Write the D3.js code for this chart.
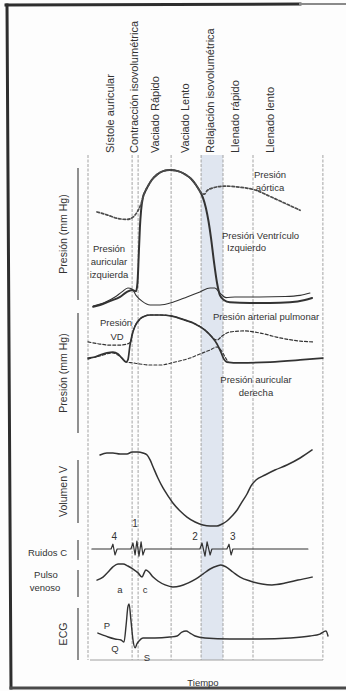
<!DOCTYPE html>
<html>
<head>
<meta charset="utf-8">
<script src="https://cdn.jsdelivr.net/npm/d3@7"></script>
<style>
  html, body { margin: 0; padding: 0; background: #ffffff; }
  svg { display: block; }
  text { font-family: "Liberation Sans", Arial, sans-serif; fill: #333333; }
</style>
</head>
<body>
<svg id="chart" width="346" height="691"></svg>
<script>
// Ciclo cardíaco: tiempo en ms desde el inicio de la sístole auricular.
const phaseNames = [
  "Sístole auricular", "Contracción isovolumétrica", "Vaciado Rápido",
  "Vaciado Lento", "Relajación isovolumétrica", "Llenado rápido", "Llenado lento"
];
const phaseStarts = [0, 147, 167, 277, 377, 450, 550];
const cycleEnd = 783;
const phaseLabelTimes = [73, 153, 223, 323, 407, 490, 607];
const isovolumetricRelaxation = [377, 450];

// Corazón izquierdo [ms, mm Hg]
const aorticPressure = [
  [30, 83.5], [63, 81], [97, 78], [130, 77], [150, 79], [165, 84], [176, 90],
  [183, 96], [190, 101], [200, 106], [213, 111.5], [230, 116], [250, 119],
  [273, 120], [300, 119], [325, 116], [345, 112], [360, 107], [372, 102],
  [380, 99.5], [388, 99], [397, 102], [417, 104.5], [457, 106], [507, 105],
  [557, 102.6], [607, 97], [657, 91], [707, 85]
];
const leftVentricularPressure = [
  [17, 1], [40, 2.6], [73, 6], [107, 9.6], [130, 14], [147, 15.6], [160, 14.5],
  [165, 22], [169, 45], [173, 70], [177, 85], [183, 96], [190, 101], [200, 106],
  [213, 111.5], [230, 116], [250, 119], [273, 120], [300, 119], [325, 116],
  [345, 112], [360, 107], [372, 102], [383, 96], [393, 87], [402, 75], [410, 61],
  [420, 40], [430, 22], [440, 11], [453, 7], [473, 5], [540, 4.3], [607, 4.3],
  [673, 5], [723, 7], [747, 8.7]
];
const leftAtrialPressure = [
  [17, 1.7], [57, 5], [90, 9.6], [113, 14], [133, 17.4], [147, 16.5], [160, 11],
  [180, 6], [207, 2.6], [240, 2.6], [283, 5], [330, 9.6], [373, 14], [407, 17.4],
  [423, 17.4], [440, 13], [460, 9], [490, 9.6], [573, 9.6], [657, 10], [707, 11],
  [740, 13]
];

// Corazón derecho [ms, mm Hg]
const rightVentricularPressure = [
  [0, 4.7], [23, 5.2], [40, 6.1], [63, 7.1], [83, 7.5], [100, 6.6], [113, 4.7],
  [127, 2.8], [133, 3.8], [140, 10.8], [147, 15.6], [157, 19.8], [173, 23.1],
  [190, 24.5], [207, 25], [240, 25], [280, 24.5], [323, 22.6], [357, 20.8],
  [390, 17.9], [413, 14.6], [430, 11.3], [443, 7.5], [453, 4.2], [463, 2.8],
  [507, 2.4], [607, 2.8], [707, 3.8], [783, 4.7]
];
const pulmonaryArterialPressure = [
  [0, 12.3], [40, 11.3], [73, 10.8], [107, 10.8], [130, 11.3], [143, 12.3],
  [147, 15.6], [157, 19.8], [173, 23.1], [190, 24.5], [207, 25], [240, 25],
  [280, 24.5], [323, 22.6], [357, 20.8], [390, 17.9], [407, 15.6], [420, 13.7],
  [430, 13.2], [447, 15.1], [473, 17], [523, 17.5], [573, 16.5], [640, 14.2],
  [707, 12.7], [750, 12.3]
];
const rightAtrialPressure = [
  [0, 4.2], [40, 5.7], [83, 7.1], [100, 6.1], [113, 4.7], [127, 2.8], [150, 2.4],
  [173, 1.9], [207, 1.4], [240, 1.4], [290, 2.8], [340, 4.7], [373, 6.6],
  [407, 8.5], [430, 9.9], [443, 8.5], [457, 5.2], [467, 2.8]
];

// Volumen ventricular [ms, mL]
const ventricularVolume = [
  [40, 126.8], [63, 128.9], [83, 128.9], [107, 127.8], [130, 127.8], [147, 130],
  [167, 130], [183, 128.9], [197, 126.8], [207, 121.4], [217, 113.8], [233, 101.9],
  [250, 91.1], [267, 82.4], [283, 74.9], [307, 66.2], [330, 59.7], [357, 54.3],
  [383, 51.1], [407, 50], [430, 50], [447, 52.2], [463, 55.4], [480, 60.8],
  [497, 67.3], [513, 75.9], [530, 84.6], [543, 93.2], [560, 99.7], [590, 105.1],
  [623, 110.5], [663, 115.9], [707, 123.5], [747, 132.2]
];

// Ruidos cardíacos [ms, amplitud relativa]
const heartSounds = [
  [13, 0], [77, 0], [83, 0.6], [90, -0.75], [97, 0], [143, 0], [150, 0.75],
  [157, -0.75], [163, 1], [170, -0.9], [177, 0.9], [183, -0.75], [190, 0],
  [373, 0], [380, 0.75], [390, -0.9], [397, 0.9], [407, -0.75], [413, 0],
  [463, 0], [470, 0.6], [477, -0.75], [483, 0], [733, 0]
];
const soundNames = ["4", "1", "2", "3"];
const soundTimes = [88, 157, 357, 483];

// Pulso venoso [ms, unidades relativas]
const venousPulse = [
  [30, 0.33], [50, 0.43], [67, 0.6], [83, 0.77], [100, 0.87], [117, 0.87],
  [133, 0.8], [150, 0.7], [167, 0.57], [180, 0.43], [187, 0.57], [193, 0.67],
  [203, 0.6], [217, 0.43], [233, 0.3], [257, 0.17], [283, 0.1], [307, 0.13],
  [333, 0.23], [360, 0.37], [383, 0.53], [407, 0.7], [430, 0.8], [443, 0.83],
  [460, 0.77], [483, 0.6], [507, 0.43], [540, 0.3], [580, 0.2], [613, 0.17],
  [657, 0.23], [700, 0.33], [747, 0.43]
];

// ECG [ms, mV]
const ecg = [
  [33, 0.15], [50, 0.09], [67, 0.03], [90, -0.03], [110, -0.06], [120, -0.12],
  [127, 0.39], [133, 0.94], [137, 1.03], [143, 0.55], [150, -0.06], [157, -0.3],
  [163, -0.18], [170, -0.09], [183, 0], [223, 0], [273, 0.03], [297, 0.06],
  [313, 0.18], [327, 0.21], [340, 0.15], [357, 0.06], [390, 0], [473, -0.03],
  [573, -0.03], [673, 0], [740, 0.06], [773, 0.12], [793, 0.21], [800, 0.06]
];

const svg = d3.select("#chart");
const ink = "#333333";

// Escalas
const x = d3.scaleLinear().domain([0, 800]).range([88, 328]);
const yLeft = d3.scaleLinear().domain([0, 120]).range([308, 170]);
const yRight = d3.scaleLinear().domain([0, 25]).range([368, 315]);
const yVolume = d3.scaleLinear().domain([50, 130]).range([526, 452]);
const ySound = d3.scaleLinear().domain([-1, 1]).range([557, 541]);
const yVenous = d3.scaleLinear().domain([0, 1]).range([590, 560]);
const yEcg = d3.scaleLinear().domain([0, 1]).range([638, 605]);

const plotTop = 155, plotBottom = 660;

svg.append("rect").attr("width", 346).attr("height", 691).attr("fill", "#fdfdfd");

// Marco exterior
const frame = svg.append("g").attr("stroke-linecap", "square");
frame.append("line").attr("x1", 6).attr("y1", 5).attr("x2", 300).attr("y2", 4)
  .attr("stroke", "#2e2e2e").attr("stroke-width", 3);
frame.append("line").attr("x1", 300).attr("y1", 4).attr("x2", 346).attr("y2", 4)
  .attr("stroke", "#8a8a8a").attr("stroke-width", 2);
frame.append("line").attr("x1", 7).attr("y1", 5).attr("x2", 11).attr("y2", 688)
  .attr("stroke", "#2e2e2e").attr("stroke-width", 3);
frame.append("line").attr("x1", 11).attr("y1", 688).attr("x2", 346).attr("y2", 688)
  .attr("stroke", "#4a4a4a").attr("stroke-width", 3);

// Franja de relajación isovolumétrica
svg.append("rect")
  .attr("x", x(isovolumetricRelaxation[0]))
  .attr("width", x(isovolumetricRelaxation[1]) - x(isovolumetricRelaxation[0]))
  .attr("y", plotTop).attr("height", plotBottom - plotTop)
  .attr("fill", "#e0e6f0");

// Líneas de fase
svg.append("g").selectAll("line")
  .data(phaseStarts.concat([cycleEnd]))
  .join("line")
  .attr("x1", d => x(d)).attr("x2", d => x(d))
  .attr("y1", plotTop).attr("y2", plotBottom)
  .attr("stroke", "#a3a3a3").attr("stroke-width", 1)
  .attr("stroke-dasharray", "3,1.5");

svg.append("line")
  .attr("x1", x(0) + 2).attr("x2", x(cycleEnd))
  .attr("y1", plotBottom).attr("y2", plotBottom)
  .attr("stroke", "#a0a0a0").attr("stroke-width", 1);

// Nombres de las fases
svg.append("g").selectAll("text")
  .data(phaseNames)
  .join("text")
  .attr("transform", (d, i) => `translate(${x(phaseLabelTimes[i])},153) rotate(-90)`)
  .attr("dominant-baseline", "central")
  .attr("font-size", 11)
  .text(d => d);

// Corchetes y títulos de los paneles
const brackets = [
  { label: "Presión (mm Hg)", y0: 168, y1: 300 },
  { label: "Presión (mm Hg)", y0: 313, y1: 433 },
  { label: "Volumen V", y0: 460, y1: 523 },
  { label: "ECG", y0: 608, y1: 660 }
];
brackets.forEach(b => {
  svg.append("line").attr("x1", 78).attr("x2", 78).attr("y1", b.y0).attr("y2", b.y1)
    .attr("stroke", "#555").attr("stroke-width", 1.3);
  svg.append("text")
    .attr("transform", `translate(63,${(b.y0 + b.y1) / 2}) rotate(-90)`)
    .attr("text-anchor", "middle").attr("dominant-baseline", "central")
    .attr("font-size", 10.5).text(b.label);
});
[[540, 560], [570, 597]].forEach(([a, b]) => {
  svg.append("line").attr("x1", 78).attr("x2", 78).attr("y1", a).attr("y2", b)
    .attr("stroke", "#555").attr("stroke-width", 1.3);
});
svg.append("text").attr("x", 67).attr("y", 556).attr("text-anchor", "end")
  .attr("font-size", 9.5).text("Ruidos C");
svg.append("text").attr("x", 46).attr("y", 578).attr("text-anchor", "middle")
  .attr("font-size", 9.5).text("Pulso");
svg.append("text").attr("x", 45).attr("y", 591).attr("text-anchor", "middle")
  .attr("font-size", 9.5).text("venoso");
svg.append("text").attr("x", 203).attr("y", 686).attr("text-anchor", "middle")
  .attr("font-size", 9.5).text("Tiempo");

// Trazos
const smooth = (ys) => d3.line().x(d => x(d[0])).y(d => ys(d[1])).curve(d3.curveMonotoneX);
const sharp = (ys) => d3.line().x(d => x(d[0])).y(d => ys(d[1]));

function trace(data, gen, width, dash, color) {
  svg.append("path").datum(data)
    .attr("d", gen)
    .attr("fill", "none")
    .attr("stroke", color || ink)
    .attr("stroke-width", width)
    .attr("stroke-linejoin", "round")
    .attr("stroke-linecap", "round")
    .attr("stroke-dasharray", dash || null);
}

trace(leftAtrialPressure, smooth(yLeft), 1.1);
trace(leftVentricularPressure, smooth(yLeft), 2.0);
trace(aorticPressure, smooth(yLeft), 1.7, "2.5,2", "#4c4c4c");

trace(rightAtrialPressure, smooth(yRight), 1.1, "3,2");
trace(pulmonaryArterialPressure, smooth(yRight), 1.2, "3,2");
trace(rightVentricularPressure, smooth(yRight), 1.7);

trace(ventricularVolume, smooth(yVolume), 1.5);
trace(heartSounds, sharp(ySound), 1.2);
trace(venousPulse, smooth(yVenous), 1.5);
trace(ecg, smooth(yEcg), 1.4);

// Rótulos de las curvas
function label(lines, xPos, yPos, anchor, size) {
  const t = svg.append("text").attr("text-anchor", anchor).attr("font-size", size || 9.5);
  lines.forEach((s, i) => t.append("tspan").attr("x", xPos).attr("y", yPos + i * 13).text(s));
}
label(["Presión", "aórtica"], 270, 178, "middle");
label(["Presión Ventrículo"], 222, 239, "start");
label(["Izquierdo"], 227, 251, "start");
label(["Presión", "auricular", "izquierda"], 109, 252, "middle");
label(["Presión"], 116, 326, "middle");
label(["VD"], 117, 340, "middle");
label(["Presión arterial pulmonar"], 213, 320, "start");
label(["Presión auricular", "derecha"], 256, 383, "middle");

// Números de los ruidos
svg.append("g").selectAll("text").data(soundNames).join("text")
  .attr("x", (d, i) => x(soundTimes[i]))
  .attr("y", (d, i) => i === 1 ? 527 : 540)
  .attr("text-anchor", "middle").attr("font-size", 10)
  .text(d => d);

// Ondas del pulso venoso y del ECG
label(["a"], 120, 593, "middle");
label(["c"], 145, 593, "middle");
label(["P"], 107, 629, "middle");
label(["Q"], 115, 652, "middle");
label(["S"], 147, 661, "middle");
</script>
</body>
</html>
